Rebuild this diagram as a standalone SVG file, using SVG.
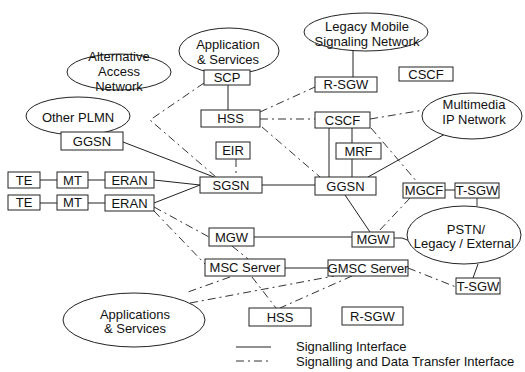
<svg xmlns="http://www.w3.org/2000/svg" width="525" height="372" viewBox="0 0 525 372">
  <style>
    .box { fill: #fff; stroke: #222; stroke-width: 1; }
    .cloud { fill: #fff; stroke: #222; stroke-width: 1; }
    .lbl { font-family: "Liberation Sans", Arial, sans-serif; font-size: 13px; fill: #111; text-anchor: middle; }
    .leg { font-family: "Liberation Sans", Arial, sans-serif; font-size: 13px; fill: #111; }
    .solid { fill: none; stroke: #222; stroke-width: 1; }
    .dash { fill: none; stroke: #333; stroke-width: 1; stroke-dasharray: 8 4 2 4; }
  </style>
  <rect width="525" height="372" fill="#fff"/>

  <!-- connectors (drawn first so nodes sit on top) -->
  <g id="connectors">
    <!-- terminal chains -->
    <line class="solid" x1="40" y1="180" x2="57" y2="180"/>
    <line class="solid" x1="88" y1="180" x2="105" y2="180"/>
    <line class="solid" x1="40" y1="203" x2="57" y2="203"/>
    <line class="solid" x1="88" y1="203" x2="105" y2="203"/>
    <line class="solid" x1="154" y1="180" x2="200" y2="185"/>
    <line class="solid" x1="154" y1="203" x2="200" y2="185"/>
    <!-- packet core -->
    <line class="solid" x1="123" y1="142" x2="214" y2="177"/>
    <line class="solid" x1="262" y1="185" x2="315" y2="185"/>
    <line class="solid" x1="228" y1="85" x2="228" y2="110"/>
    <line class="solid" x1="353" y1="50" x2="353" y2="77"/>
    <line class="solid" x1="329" y1="128" x2="329" y2="177"/>
    <line class="solid" x1="352" y1="128" x2="352" y2="143"/>
    <line class="solid" x1="352" y1="159" x2="352" y2="177"/>
    <line class="solid" x1="445" y1="134" x2="368" y2="177"/>
    <line class="solid" x1="345" y1="195" x2="370" y2="232"/>
    <!-- circuit core -->
    <line class="solid" x1="254" y1="237" x2="352" y2="237"/>
    <line class="solid" x1="285" y1="268" x2="328" y2="268"/>
    <polyline class="solid" points="394,238 402,238 410,241"/>
    <line class="solid" x1="445" y1="190" x2="455" y2="190"/>
    <line class="solid" x1="478" y1="264" x2="473" y2="278"/>

    <!-- signalling and data transfer links -->
    <polyline class="dash" points="204,83 150,120 216,177"/>
    <line class="dash" x1="236" y1="159" x2="236" y2="177"/>
    <line class="dash" x1="260" y1="112" x2="315" y2="87"/>
    <line class="dash" x1="260" y1="119" x2="315" y2="119"/>
    <line class="dash" x1="262" y1="127" x2="320" y2="177"/>
    <line class="dash" x1="370" y1="119" x2="424" y2="110"/>
    <line class="dash" x1="371" y1="128" x2="418" y2="183"/>
    <line class="dash" x1="410" y1="198" x2="378" y2="232"/>
    <line class="dash" x1="477" y1="198" x2="477" y2="206"/>
    <line class="dash" x1="154" y1="207" x2="209" y2="237"/>
    <line class="dash" x1="154" y1="211" x2="205" y2="264"/>
    <line class="dash" x1="232" y1="246" x2="248" y2="259"/>
    <line class="dash" x1="230" y1="277" x2="188" y2="292"/>
    <line class="dash" x1="190" y1="303" x2="334" y2="276"/>
    <line class="dash" x1="252" y1="277" x2="276" y2="308"/>
    <line class="dash" x1="352" y1="276" x2="280" y2="308"/>
    <line class="dash" x1="408" y1="268" x2="456" y2="287"/>
  </g>

  <!-- networks -->
  <g id="alt-access">
    <ellipse class="cloud" cx="119" cy="72" rx="52" ry="18"/>
    <text class="lbl" x="119" y="61">Alternative</text>
    <text class="lbl" x="119" y="76">Access</text>
    <text class="lbl" x="119" y="91">Network</text>
  </g>
  <g id="app-services-top">
    <ellipse class="cloud" cx="229" cy="51" rx="50" ry="23"/>
    <text class="lbl" x="228" y="49">Application</text>
    <text class="lbl" x="228" y="64">&amp; Services</text>
  </g>
  <g id="other-plmn">
    <ellipse class="cloud" cx="78" cy="116" rx="52" ry="19"/>
    <text class="lbl" x="78" y="122">Other PLMN</text>
  </g>
  <g id="legacy-mobile">
    <ellipse class="cloud" cx="366" cy="32" rx="62" ry="19"/>
    <text class="lbl" x="367" y="31">Legacy Mobile</text>
    <text class="lbl" x="367" y="46">Signaling Network</text>
  </g>
  <g id="multimedia-ip">
    <ellipse class="cloud" cx="472" cy="116" rx="50" ry="23"/>
    <text class="lbl" x="474" y="109">Multimedia</text>
    <text class="lbl" x="474" y="124">IP Network</text>
  </g>
  <g id="pstn">
    <ellipse class="cloud" cx="464" cy="235" rx="57" ry="29"/>
    <text class="lbl" x="466" y="234">PSTN/</text>
    <text class="lbl" x="464" y="248">Legacy / External</text>
  </g>
  <g id="app-services-bottom">
    <ellipse class="cloud" cx="134" cy="320" rx="71" ry="27"/>
    <text class="lbl" x="135" y="319">Applications</text>
    <text class="lbl" x="135" y="333">&amp; Services</text>
  </g>

  <!-- terminals and access -->
  <g id="te-1"><rect class="box" x="8" y="172" width="32" height="16"/><text class="lbl" x="24" y="185">TE</text></g>
  <g id="mt-1"><rect class="box" x="57" y="172" width="31" height="16"/><text class="lbl" x="72.5" y="185">MT</text></g>
  <g id="eran-1"><rect class="box" x="105" y="172" width="49" height="16"/><text class="lbl" x="129.5" y="185">ERAN</text></g>
  <g id="te-2"><rect class="box" x="8" y="195" width="32" height="15"/><text class="lbl" x="24" y="207">TE</text></g>
  <g id="mt-2"><rect class="box" x="57" y="195" width="31" height="15"/><text class="lbl" x="72.5" y="207">MT</text></g>
  <g id="eran-2"><rect class="box" x="105" y="195" width="49" height="16"/><text class="lbl" x="129.5" y="208">ERAN</text></g>

  <!-- core nodes -->
  <g id="ggsn-other"><rect class="box" x="61" y="132" width="62" height="18"/><text class="lbl" x="92" y="146">GGSN</text></g>
  <g id="scp"><rect class="box" x="204" y="70" width="46" height="15"/><text class="lbl" x="227" y="82">SCP</text></g>
  <g id="hss-top"><rect class="box" x="201" y="110" width="59" height="17"/><text class="lbl" x="230.5" y="123">HSS</text></g>
  <g id="eir"><rect class="box" x="216" y="142" width="34" height="17"/><text class="lbl" x="233" y="155">EIR</text></g>
  <g id="sgsn"><rect class="box" x="200" y="177" width="62" height="16"/><text class="lbl" x="231" y="190">SGSN</text></g>
  <g id="r-sgw-top"><rect class="box" x="315" y="77" width="62" height="15"/><text class="lbl" x="346" y="89">R-SGW</text></g>
  <g id="cscf-standalone"><rect class="box" x="399" y="67" width="54" height="14"/><text class="lbl" x="426" y="79">CSCF</text></g>
  <g id="cscf"><rect class="box" x="315" y="112" width="55" height="16"/><text class="lbl" x="342.5" y="125">CSCF</text></g>
  <g id="mrf"><rect class="box" x="336" y="143" width="45" height="16"/><text class="lbl" x="358.5" y="156">MRF</text></g>
  <g id="ggsn"><rect class="box" x="315" y="177" width="61" height="18"/><text class="lbl" x="345.5" y="191">GGSN</text></g>
  <g id="mgcf"><rect class="box" x="403" y="183" width="42" height="15"/><text class="lbl" x="424" y="195">MGCF</text></g>
  <g id="t-sgw-top"><rect class="box" x="455" y="183" width="44" height="15"/><text class="lbl" x="477" y="195">T-SGW</text></g>
  <g id="mgw-left"><rect class="box" x="209" y="228" width="45" height="18"/><text class="lbl" x="231.5" y="242">MGW</text></g>
  <g id="mgw"><rect class="box" x="352" y="232" width="42" height="15"/><text class="lbl" x="373" y="244">MGW</text></g>
  <g id="msc-server"><rect class="box" x="205" y="259" width="80" height="17"/><text class="lbl" x="245" y="272">MSC Server</text></g>
  <g id="gmsc-server"><rect class="box" x="328" y="260" width="80" height="16"/><text class="lbl" x="368" y="273">GMSC Server</text></g>
  <g id="t-sgw-bottom"><rect class="box" x="456" y="278" width="44" height="16"/><text class="lbl" x="478" y="291">T-SGW</text></g>
  <g id="hss-bottom"><rect class="box" x="249" y="308" width="62" height="18"/><text class="lbl" x="280" y="322">HSS</text></g>
  <g id="r-sgw-bottom"><rect class="box" x="342" y="307" width="61" height="18"/><text class="lbl" x="372.5" y="321">R-SGW</text></g>

  <!-- legend -->
  <g id="legend">
    <line class="solid" x1="236" y1="347" x2="271" y2="347"/>
    <line class="dash" x1="236" y1="361" x2="271" y2="361"/>
    <text class="leg" x="296" y="351">Signalling Interface</text>
    <text class="leg" x="296" y="366">Signalling and Data Transfer Interface</text>
  </g>
</svg>
